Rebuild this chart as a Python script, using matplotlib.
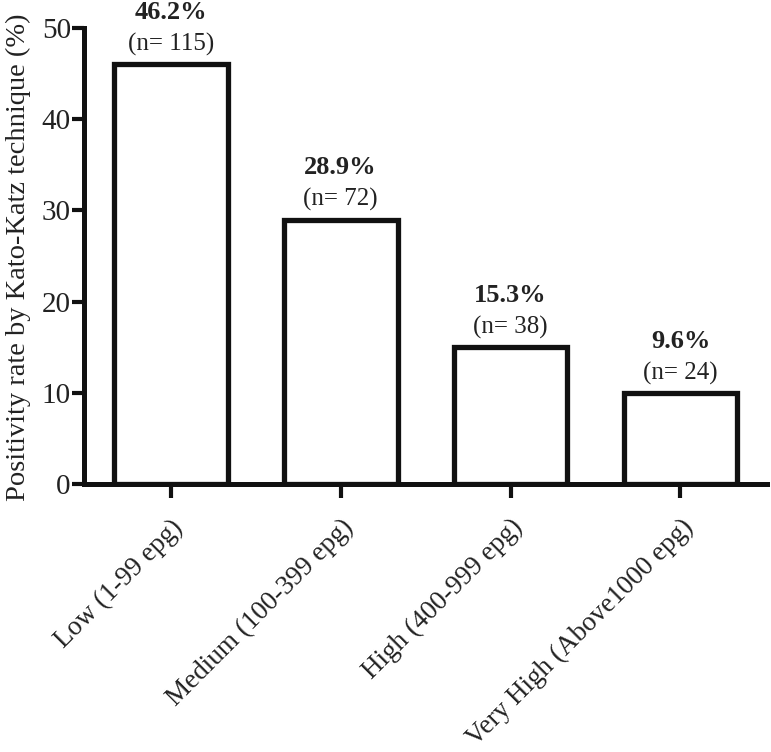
import matplotlib
matplotlib.use("Agg")
import matplotlib.pyplot as plt

categories = ["Low (1-99 epg)", "Medium (100-399 epg)", "High (400-999 epg)", "Very High (Above1000 epg)"]
bar_heights = [46, 29, 15, 10]
pct_labels = ["46.2%", "28.9%", "15.3%", "9.6%"]
n_labels = ["(n= 115)", "(n= 72)", "(n= 38)", "(n= 24)"]
yticks = [0, 10, 20, 30, 40, 50]

plt.rcParams['font.family'] = ['Liberation Serif', 'DejaVu Serif']

fig = plt.figure(figsize=(7.71, 7.52), dpi=100)
ax = fig.add_axes([0.109, 0.356, 0.886, 0.607])

x = list(range(len(categories)))
ax.bar(x, bar_heights, width=0.67, facecolor='white', edgecolor='#111111', linewidth=3.8, zorder=3)

for xi, h, p, n in zip(x, bar_heights, pct_labels, n_labels):
    ax.annotate(n, (xi, h), xytext=(0, 6), textcoords='offset points', ha='center', va='bottom',
                fontsize=18, color='#222222')
    ax.annotate(p, (xi, h), xytext=(0, 29), textcoords='offset points', ha='center', va='bottom',
                fontsize=19, fontweight='bold', color='#222222')

ax.set_xlim(-0.51, 3.51)
ax.set_ylim(0, 50)
ax.set_yticks(yticks)
ax.set_xticks(x)
ax.set_xticklabels(categories, rotation=45, ha='right', rotation_mode='anchor', fontsize=19.5, color='#222222')
ax.tick_params(axis='y', direction='out', length=8.5, width=3, labelsize=21, colors='#111111', labelcolor='#222222', pad=1)
ax.tick_params(axis='x', direction='out', length=10, width=3, colors='#111111', labelcolor='#222222', pad=12)

for s in ['top', 'right']:
    ax.spines[s].set_visible(False)
for s in ['left', 'bottom']:
    ax.spines[s].set_linewidth(3.6)
    ax.spines[s].set_color('#111111')

ax.set_ylabel("Positivity rate by Kato-Katz technique (%)", fontsize=20.5, color='#222222')
ax.yaxis.set_label_coords(-0.077, 0.497)

fig.savefig("out.png", dpi=100)
